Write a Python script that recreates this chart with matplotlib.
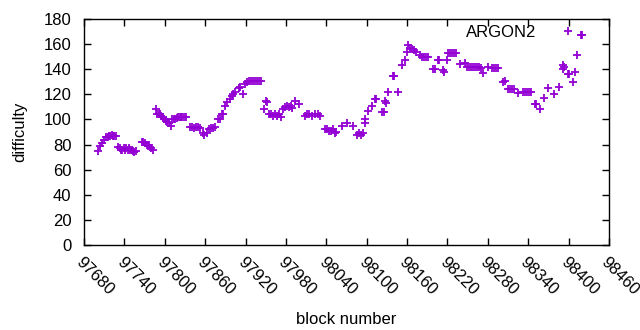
import matplotlib
matplotlib.use("Agg")
import matplotlib.pyplot as plt

# block number / difficulty
blocks = [
    97701, 97704, 97706, 97709, 97712, 97715, 97717, 97719, 97721, 97723,
    97725, 97727, 97730, 97733, 97735, 97737, 97739, 97741, 97743, 97745,
    97747, 97749, 97751, 97753, 97755, 97757, 97766, 97768, 97770, 97773,
    97775, 97777, 97780, 97782, 97787, 97789, 97791, 97793, 97795, 97797,
    97799, 97802, 97804, 97806, 97809, 97811, 97813, 97815, 97818, 97820,
    97822, 97824, 97826, 97829, 97832, 97838, 97841, 97844, 97847, 97850,
    97853, 97857, 97859, 97862, 97866, 97868, 97871, 97874, 97879, 97882,
    97885, 97887, 97890, 97893, 97897, 97900, 97902, 97904, 97910, 97912,
    97916, 97919, 97922, 97925, 97928, 97931, 97934, 97937, 97940, 97943,
    97947, 97950, 97952, 97955, 97958, 97961, 97964, 97967, 97970, 97972,
    97975, 97978, 97981, 97984, 97987, 97989, 97994, 97999, 98008, 98011,
    98015, 98019, 98023, 98027, 98031, 98038, 98041, 98044, 98047, 98050,
    98053, 98055, 98063, 98071, 98080, 98086, 98089, 98092, 98095, 98097,
    98098, 98102, 98108, 98112, 98114, 98123, 98125, 98127, 98128, 98132,
    98139, 98141, 98147, 98153, 98157, 98160, 98161, 98164, 98167, 98170,
    98173, 98179, 98182, 98185, 98188, 98191, 98199, 98201, 98206, 98208,
    98213, 98215, 98219, 98221, 98224, 98227, 98230, 98233, 98239, 98246,
    98249, 98252, 98255, 98258, 98261, 98264, 98267, 98270, 98273, 98280,
    98286, 98289, 98292, 98295, 98303, 98305, 98310, 98313, 98316, 98319,
    98325, 98332, 98335, 98338, 98341, 98344, 98350, 98352, 98358, 98364,
    98370, 98378, 98386, 98391, 98392, 98393, 98399, 98401, 98407, 98410,
    98413, 98418, 98420,
]
difficulty = [
    75, 79, 81, 84, 86, 86, 87, 87, 88, 87,
    87, 87, 78, 77, 76, 76, 77, 76, 77, 76,
    77, 76, 76, 75, 74, 75, 82, 82, 81, 80,
    79, 80, 77, 76, 108, 104, 104, 104, 103, 102,
    100, 99, 98, 97, 95, 100, 100, 100, 101, 102,
    102, 102, 102, 102, 102, 94, 94, 93, 94, 94,
    93, 89, 88, 89, 92, 93, 93, 94, 100, 100,
    104, 104, 111, 114, 116, 119, 120, 122, 125, 126,
    120, 128, 130, 131, 131, 131, 131, 131, 131, 131,
    108, 115, 114, 104, 104, 103, 104, 103, 104, 102,
    108, 110, 111, 110, 111, 109, 115, 112, 103, 104,
    104, 103, 104, 104, 103, 92, 92, 91, 91, 92,
    89, 90, 95, 97, 95, 88, 89, 88, 89, 97,
    100, 107, 111, 116, 116, 106, 106, 115, 113, 122,
    135, 135, 122, 143, 147, 154, 159, 157, 156, 155,
    154, 151, 150, 150, 150, 150, 140, 140, 147, 147,
    139, 138, 147, 153, 153, 153, 153, 153, 144, 145,
    142, 142, 142, 142, 142, 142, 142, 141, 137, 142,
    141, 141, 141, 141, 130, 131, 124, 124, 124, 124,
    121, 122, 122, 122, 122, 122, 112, 112, 108, 117,
    125, 120, 126, 140, 143, 142, 136, 136, 130, 138,
    151, 167, 167,
]

xticks = list(range(97680, 98461, 60))
yticks = list(range(0, 181, 20))

plt.rcParams['font.family'] = ['Liberation Sans', 'DejaVu Sans']
plt.rcParams['font.size'] = 12

fig, ax = plt.subplots(figsize=(6.4, 3.3), dpi=100)
fig.subplots_adjust(left=84/640, right=609/640, top=1-19/330, bottom=1-245/330)

ax.plot(blocks, difficulty, linestyle='none', marker='+', color='#9400d3',
        markersize=6, markeredgewidth=1.3, label='ARGON2')

ax.set_xlim(97680, 98460)
ax.set_ylim(0, 180)
ax.set_xticks(xticks)
ax.set_yticks(yticks)
ax.set_xticklabels([str(t) for t in xticks], rotation=-45, ha='left', va='top',
                   rotation_mode='anchor')

ax.tick_params(direction='in', top=True, right=True, length=5, width=1)
ax.tick_params(axis='x', pad=7)
ax.tick_params(axis='y', pad=9)
for s in ax.spines.values():
    s.set_linewidth(1)

ax.set_xlabel("block number", labelpad=10)
ax.set_ylabel("difficulty", labelpad=12)

ax.legend(loc='upper right', frameon=False, markerfirst=False,
          handlelength=2, handletextpad=0.9, borderaxespad=0.0,
          bbox_to_anchor=(0.966, 1.005))

plt.savefig("out.png", dpi=100)
